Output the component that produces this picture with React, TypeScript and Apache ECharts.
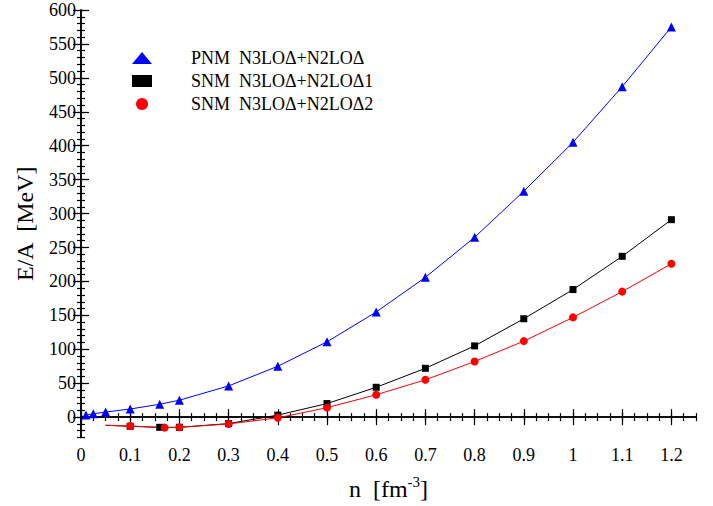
import React, { useEffect, useRef } from "react";
import * as echarts from "echarts";

const pnmData: [number, number][] = [
  [0.01, 3], [0.025, 5], [0.05, 7.5], [0.1, 12], [0.16, 19], [0.2, 25], [0.3, 46],
  [0.4, 75], [0.5, 111], [0.6, 155], [0.7, 206], [0.8, 265], [0.9, 333], [1.0, 405],
  [1.1, 487], [1.2, 575],
];
const snm1Start: [number, number] = [0.05, -12];
const snm1Data: [number, number][] = [
  [0.1, -13.5], [0.16, -15], [0.2, -15], [0.3, -9.5], [0.4, 3], [0.5, 20], [0.6, 44],
  [0.7, 72], [0.8, 105], [0.9, 145], [1.0, 188], [1.1, 237], [1.2, 291],
];
const snm2Start: [number, number] = [0.05, -12];
const snm2Data: [number, number][] = [
  [0.1, -13], [0.17, -15.5], [0.2, -15], [0.3, -10], [0.4, -1], [0.5, 14], [0.6, 33],
  [0.7, 55], [0.8, 82], [0.9, 112], [1.0, 147], [1.1, 185], [1.2, 226],
];
const seriesNames = ["PNM  N3LOΔ+N2LOΔ", "SNM  N3LOΔ+N2LOΔ1", "SNM  N3LOΔ+N2LOΔ2"];

const xTickValues = [0, 0.1, 0.2, 0.3, 0.4, 0.5, 0.6, 0.7, 0.8, 0.9, 1, 1.1, 1.2];
const xTickLabels = ["0", "0.1", "0.2", "0.3", "0.4", "0.5", "0.6", "0.7", "0.8", "0.9", "1", "1.1", "1.2"];
const yTickValues = [0, 50, 100, 150, 200, 250, 300, 350, 400, 450, 500, 550, 600];

const X_MIN = 0, X_MAX = 1.25, Y_MIN = -30, Y_MAX = 600;

const xMinor: number[] = [];
for (let k = 0; k <= 50; k++) xMinor.push(Math.round(k * 0.025 * 1000) / 1000);
const yMinor: number[] = [];
for (let v = -30; v <= 600; v += 10) yMinor.push(v);

const FONT = "Liberation Serif";

export default function App() {
  const ref = useRef<HTMLDivElement>(null);
  useEffect(() => {
    if (!ref.current) return;
    const chart = echarts.init(ref.current, null, { renderer: "svg" });
    const axisLine = { show: true, lineStyle: { color: "#000", width: 1.5 } };
    const base = { type: "value" as const, min: X_MIN, max: X_MAX, splitLine: { show: false } };
    const ybase = { type: "value" as const, min: Y_MIN, max: Y_MAX, splitLine: { show: false } };
    const tickStyle = { color: "#000", width: 1.2 };
    const hidden = { show: false };
    const xAxes = [
      {
        ...base, position: "bottom", axisLine, interval: 0.025,
        name: "n  [fm{sup|-3}]", nameLocation: "middle", nameGap: 37,
        nameTextStyle: { fontFamily: FONT, fontSize: 24, color: "#000", rich: { sup: { fontFamily: FONT, fontSize: 15, verticalAlign: "top", padding: [0, 0, 14, 0], color: "#000" } } },
        axisTick: { show: true, inside: true, length: 8, lineStyle: tickStyle, customValues: xTickValues },
        axisLabel: { show: true, fontFamily: FONT, fontSize: 18, color: "#000", margin: 8, showMaxLabel: false, hideOverlap: false,
          formatter: (v: number) => { const i = xTickValues.findIndex((t) => Math.abs(t - v) < 1e-6); return i >= 0 ? xTickLabels[i] : ""; } },
      },
      { ...base, position: "bottom", axisLine: hidden, axisLabel: hidden,
        axisTick: { show: true, inside: true, length: 4, lineStyle: tickStyle, customValues: xMinor } },
      { ...base, position: "top", axisLine, axisLabel: hidden,
        axisTick: { show: true, inside: true, length: 8, lineStyle: tickStyle, customValues: xTickValues } },
      { ...base, position: "top", axisLine: hidden, axisLabel: hidden,
        axisTick: { show: true, inside: true, length: 4, lineStyle: tickStyle, customValues: xMinor } },
    ];
    const yAxes = [
      {
        ...ybase, position: "left", axisLine, interval: 10,
        name: "E/A  [MeV]", nameLocation: "middle", nameGap: 44, nameRotate: 90,
        nameTextStyle: { fontFamily: FONT, fontSize: 24, color: "#000" },
        axisTick: { show: true, inside: true, length: 8, lineStyle: tickStyle, customValues: yTickValues },
        axisLabel: { show: true, fontFamily: FONT, fontSize: 18, color: "#000", margin: 5, hideOverlap: false,
          formatter: (v: number) => (yTickValues.indexOf(Math.round(v)) >= 0 ? String(Math.round(v)) : "") },
      },
      { ...ybase, position: "left", axisLine: hidden, axisLabel: hidden,
        axisTick: { show: true, inside: true, length: 4, lineStyle: tickStyle, customValues: yMinor } },
      { ...ybase, position: "right", axisLine, axisLabel: hidden,
        axisTick: { show: true, inside: true, length: 8, lineStyle: tickStyle, customValues: yTickValues } },
      { ...ybase, position: "right", axisLine: hidden, axisLabel: hidden,
        axisTick: { show: true, inside: true, length: 4, lineStyle: tickStyle, customValues: yMinor } },
    ];
    const lineCommon = { type: "line" as const, smooth: false, xAxisIndex: 0, yAxisIndex: 0, z: 3 };
    chart.setOption({
      animation: false,
      backgroundColor: "#fff",
      textStyle: { fontFamily: FONT, color: "#000" },
      grid: { left: 81, right: 17, top: 10, bottom: 65, containLabel: false },
      legend: {
        orient: "vertical", left: 127, top: 44, itemGap: 5, itemWidth: 20, itemHeight: 12,
        textStyle: { fontFamily: FONT, fontSize: 18, color: "#000", padding: [0, 0, 0, 34] },
        data: [
          { name: seriesNames[0], icon: "triangle", itemStyle: { color: "#0000ff" } },
          { name: seriesNames[1], icon: "rect", itemStyle: { color: "#000" } },
          { name: seriesNames[2], icon: "circle", itemStyle: { color: "#ff0000" } },
        ],
      },
      xAxis: xAxes,
      yAxis: yAxes,
      series: [
        { ...lineCommon, name: seriesNames[0], data: pnmData, symbol: "triangle", symbolSize: 9,
          itemStyle: { color: "#0000ff" }, lineStyle: { color: "#0000ff", width: 1 } },
        { ...lineCommon, name: seriesNames[1], data: [{ value: snm1Start, symbol: "none" }, ...snm1Data], symbol: "rect", symbolSize: 7,
          itemStyle: { color: "#000" }, lineStyle: { color: "#000", width: 1 } },
        { ...lineCommon, name: seriesNames[2], data: [{ value: snm2Start, symbol: "none" }, ...snm2Data], symbol: "circle", symbolSize: 8,
          itemStyle: { color: "#ff0000" }, lineStyle: { color: "#ff0000", width: 1 } },
      ],
    });
    return () => chart.dispose();
  }, []);
  return <div ref={ref} style={{ position: "fixed", left: 0, top: 0, width: 713, height: 506 }} />;
}
